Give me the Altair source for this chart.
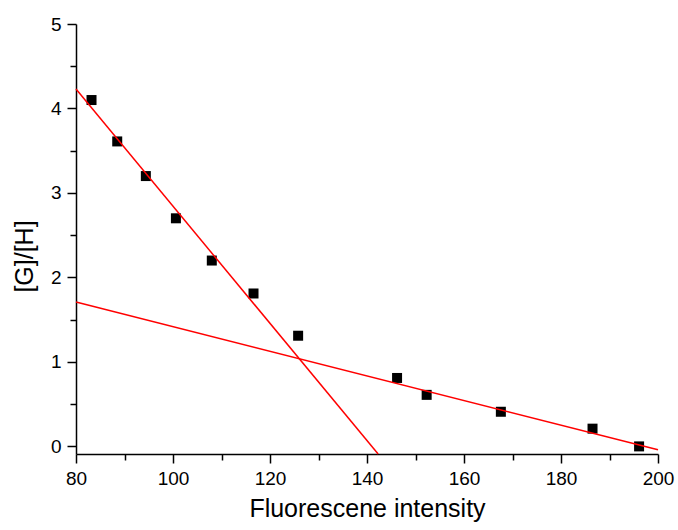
import altair as alt
import pandas as pd

# Data points
intensity = [83.2, 88.5, 94.4, 100.6, 108.0, 116.6, 125.8, 146.2, 152.3, 167.6, 186.5, 196.1]
ratio = [4.10, 3.61, 3.20, 2.70, 2.20, 1.81, 1.31, 0.81, 0.61, 0.41, 0.21, 0.00]

# Fit lines (end points)
fit_id = ["fit1", "fit1", "fit2", "fit2"]
fit_x = [80, 142.3, 80, 200]
fit_y = [4.23, -0.09, 1.71, -0.04]

x_ticks = [80, 90, 100, 110, 120, 130, 140, 150, 160, 170, 180, 190, 200]
y_ticks = [0, 0.5, 1, 1.5, 2, 2.5, 3, 3.5, 4, 4.5, 5]

pts = pd.DataFrame({"x": intensity, "y": ratio})
fits = pd.DataFrame({"fit": fit_id, "x": fit_x, "y": fit_y})

FONT = "Liberation Sans"

xscale = alt.Scale(domain=[80, 200], nice=False, zero=False)
yscale = alt.Scale(domain=[-0.09, 5], nice=False, zero=False)

xaxis = alt.Axis(
    title="Fluorescene intensity",
    values=x_ticks,
    labelExpr="datum.value % 20 === 0 ? format(datum.value, 'd') : ''",
    tickSize={"condition": {"test": "datum.value % 20 === 0", "value": 9}, "value": 6},
    labelFlush=False,
    labelOverlap=False,
    labelPadding=6,
    titlePadding=8,
    grid=False,
)
yaxis = alt.Axis(
    title="[G]/[H]",
    values=y_ticks,
    labelExpr="datum.value % 1 === 0 ? format(datum.value, 'd') : ''",
    tickSize={"condition": {"test": "datum.value % 1 === 0", "value": 9}, "value": 6},
    labelFlush=False,
    labelOverlap=False,
    labelPadding=6,
    titleX=-39,
    titleY=232,
    titleBaseline="bottom",
    titleAngle=270,
    grid=False,
)

points = alt.Chart(pts).mark_square(size=100, color="black", opacity=1).encode(
    x=alt.X("x:Q", scale=xscale, axis=xaxis),
    y=alt.Y("y:Q", scale=yscale, axis=yaxis),
)

lines = alt.Chart(fits).mark_line(color="#FF0000", strokeWidth=1.5).encode(
    x=alt.X("x:Q", scale=xscale),
    y=alt.Y("y:Q", scale=yscale),
    detail="fit:N",
)

chart = (
    alt.layer(points, lines)
    .properties(
        width=582,
        height=430,
        autosize=alt.AutoSizeParams(type="none"),
        padding={"left": 76, "top": 24, "right": 20, "bottom": 76},
        background="white",
    )
    .configure_view(stroke=None)
    .configure_axis(
        domainColor="black",
        domainWidth=1.5,
        tickColor="black",
        tickWidth=1.5,
        labelFont=FONT,
        labelFontSize=19,
        labelColor="black",
        titleFont=FONT,
        titleFontSize=25,
        titleFontWeight="normal",
        titleColor="black",
    )
)

chart.save("out.html", embed_options={"renderer": "svg", "actions": False})
